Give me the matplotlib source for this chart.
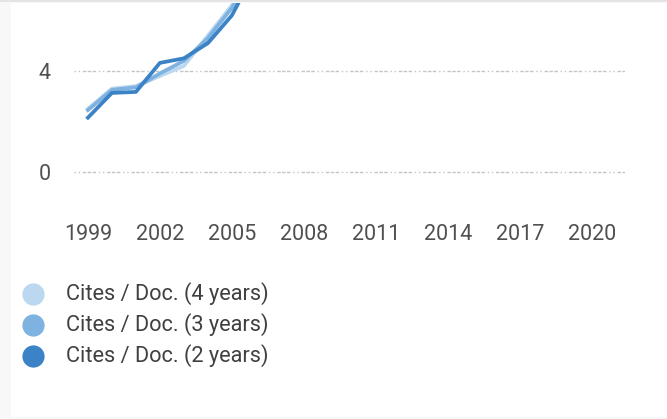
import matplotlib
matplotlib.use("Agg")
import matplotlib.pyplot as plt
from matplotlib.patches import Rectangle

# data (values after 2005 run past the top of the card)
years = [1999, 2000, 2001, 2002, 2003, 2004, 2005, 2006]
cites_4y = [2.5, 3.3, 3.4, 3.8, 4.2, 5.4, 6.6, 8.2]
cites_3y = [2.45, 3.25, 3.35, 3.9, 4.4, 5.3, 6.5, 8.1]
cites_2y = [2.15, 3.13, 3.17, 4.32, 4.5, 5.1, 6.2, 8.0]

labels = ["Cites / Doc. (4 years)", "Cites / Doc. (3 years)", "Cites / Doc. (2 years)"]
colors = ["#bcd8f0", "#7eb2e0", "#3b82c6"]
xticks = [1999, 2002, 2005, 2008, 2011, 2014, 2017, 2020]
yticks = [0, 4]

plt.rcParams['font.family'] = ['Roboto', 'DejaVu Sans']

W, H = 667, 419
fig = plt.figure(figsize=(W / 100, H / 100), dpi=100, facecolor="#f8f8f8")

# white card with thin grey top line
fig.add_artist(Rectangle((11 / W, 2 / H), 1 - 11 / W, 1 - 5 / H, transform=fig.transFigure,
                         facecolor="white", edgecolor="none", zorder=0))
fig.add_artist(Rectangle((0, 1 - 2 / H), 1, 2 / H, transform=fig.transFigure,
                         facecolor="#e4e4e4", edgecolor="none", zorder=0))

# axes in pixel terms: x 74..625, y top 3, bottom 210
ax = fig.add_axes([74 / W, 1 - 210 / H, (625 - 74) / W, (210 - 3) / H])
ax.set_facecolor("none")

for vals, c in zip([cites_4y, cites_3y, cites_2y], colors):
    ax.plot(years, vals, color=c, lw=2.7, solid_joinstyle="round")

ax.set_xlim(1998.42, 2021.38)
ax.set_ylim(-1.505, 6.69)
ax.set_xticks(xticks)
ax.set_yticks(yticks)
ax.tick_params(length=0, labelsize=15.5, labelcolor="#505050")
ax.tick_params(axis="x", pad=10)
ax.tick_params(axis="y", pad=17)
for s in ax.spines.values():
    s.set_visible(False)
ax.grid(axis="y", color="#c4c4c4", lw=1, dashes=(1, 2, 1, 2, 2.5, 1, 2.5, 1, 2.5, 2))
ax.set_axisbelow(True)

# legend drawn in pixel space: round swatch + label
lax = fig.add_axes([0, 0, 1, 1])
lax.set_xlim(0, W)
lax.set_ylim(H, 0)
lax.axis("off")
for i, (c, lab) in enumerate(zip(colors, labels)):
    yy = 294 + i * 31
    lax.plot([33], [yy], marker="o", ms=16, color=c, markeredgewidth=0)
    lax.text(66, yy, lab, fontsize=15.7, color="#404040", va="center", ha="left")

fig.savefig("out.png", dpi=100, facecolor=fig.get_facecolor())
